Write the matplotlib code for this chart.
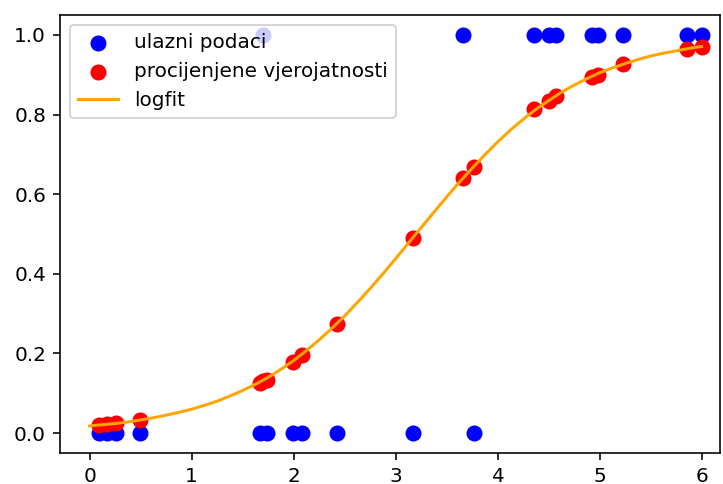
import matplotlib
matplotlib.use("Agg")
import matplotlib.pyplot as plt
import numpy as np

# input data (x, class 0/1)
x_data = [0.09, 0.17, 0.26, 0.49, 1.67, 1.70, 1.74, 1.99, 2.08, 2.43, 3.17,
          3.66, 3.77, 4.36, 4.50, 4.57, 4.93, 4.98, 5.23, 5.86, 6.00]
y_data = [0, 0, 0, 0, 0, 1, 0, 0, 0, 0, 0,
          1, 0, 1, 1, 1, 1, 1, 1, 1, 1]

# estimated probabilities at the same x
p_est = [0.020, 0.022, 0.025, 0.033, 0.125, 0.130, 0.133, 0.178, 0.196, 0.275, 0.490,
         0.640, 0.668, 0.813, 0.835, 0.846, 0.895, 0.900, 0.928, 0.965, 0.970]

# fitted curve
x_fit = [0.0, 0.125, 0.25, 0.375, 0.5, 0.625, 0.75, 0.875, 1.0, 1.125, 1.25, 1.375,
         1.5, 1.625, 1.75, 1.875, 2.0, 2.125, 2.25, 2.375, 2.5, 2.625, 2.75, 2.875,
         3.0, 3.125, 3.25, 3.375, 3.5, 3.625, 3.75, 3.875, 4.0, 4.125, 4.25, 4.375,
         4.5, 4.625, 4.75, 4.875, 5.0, 5.125, 5.25, 5.375, 5.5, 5.625, 5.75, 5.875, 6.0]
p_fit = [0.018, 0.021, 0.024, 0.028, 0.033, 0.0385, 0.045, 0.052, 0.060, 0.0695,
         0.080, 0.093, 0.107, 0.1225, 0.140, 0.160, 0.182, 0.207, 0.234, 0.263,
         0.294, 0.328, 0.363, 0.400, 0.438, 0.477, 0.516, 0.5545, 0.593, 0.630,
         0.665, 0.699, 0.731, 0.761, 0.788, 0.813, 0.835, 0.856, 0.874, 0.890,
         0.905, 0.917, 0.928, 0.938, 0.947, 0.954, 0.960, 0.966, 0.971]

dpi = 144
fig, ax = plt.subplots(figsize=(723 / dpi, 484 / dpi), dpi=dpi)
fig.subplots_adjust(left=60 / 723, right=720 / 723, bottom=31 / 484, top=469 / 484)

ax.scatter(x_data, y_data, c='blue', s=49, label='ulazni podaci')
ax.scatter(x_data, p_est, c='red', s=49, label='procijenjene vjerojatnosti')
ax.plot(x_fit, p_fit, color='orange', label='logfit')

ax.set_xlim(-0.29, 6.18)
ax.set_ylim(-0.05, 1.05)
ax.legend(loc='upper left')

fig.savefig("out.png", dpi=dpi)
